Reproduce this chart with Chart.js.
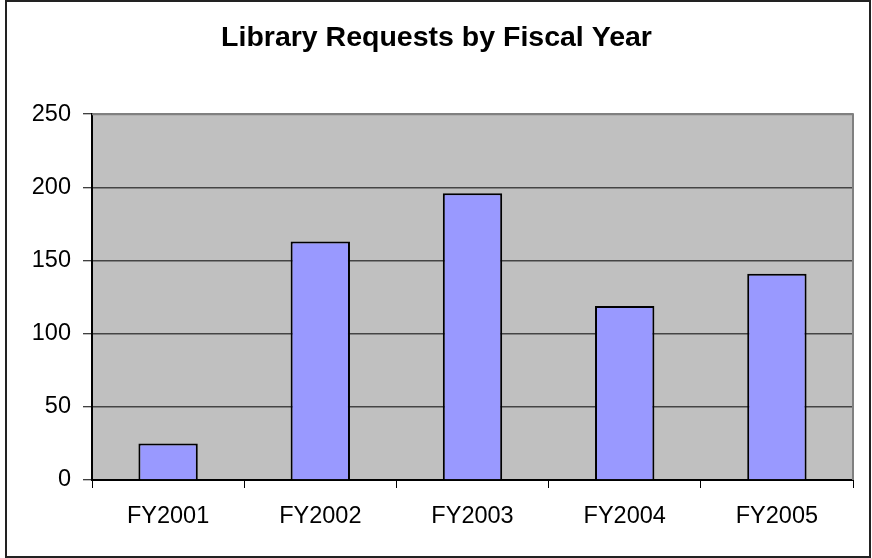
<!DOCTYPE html>
<html>
<head>
<meta charset="utf-8">
<script src="https://cdn.jsdelivr.net/npm/chart.js@4/dist/chart.umd.min.js"></script>
<style>
  body { margin: 0; background: #fff; }
  #wrap { width: 872px; height: 558px; }
</style>
</head>
<body>
<div id="wrap"><canvas id="requestsChart" width="872" height="558"></canvas></div>
<script>
const chartTitle = 'Library Requests by Fiscal Year';
const fiscalYears = ['FY2001', 'FY2002', 'FY2003', 'FY2004', 'FY2005'];
const requests = [25, 163, 196, 119, 141];
const yTicks = [0, 50, 100, 150, 200, 250];

// серый фон области графика и рамка вокруг всего рисунка
const framePlugin = {
    id: 'frame',
    beforeDraw(chart) {
        const c = chart.ctx;
        const a = chart.chartArea;
        c.save();
        c.fillStyle = '#fff';
        c.fillRect(0, 0, chart.width, chart.height);
        c.fillStyle = '#c0c0c0';
        c.fillRect(a.left, a.top, a.right - a.left, a.bottom - a.top);
        c.restore();
    },
    afterDraw(chart) {
        const c = chart.ctx;
        const a = chart.chartArea;
        c.save();
        c.strokeStyle = '#808080';
        c.lineWidth = 2;
        c.beginPath();
        c.moveTo(a.left, a.top);
        c.lineTo(a.right, a.top);
        c.lineTo(a.right, a.bottom);
        c.stroke();
        c.strokeStyle = '#222';
        c.lineWidth = 2;
        c.strokeRect(6, 1, 864, 556);
        c.restore();
    }
};

const ctx = document.getElementById('requestsChart').getContext('2d');
new Chart(ctx, {
    type: 'bar',
    data: {
        labels: fiscalYears,
        datasets: [{
            data: requests,
            backgroundColor: '#9999ff',
            borderColor: '#000',
            borderWidth: 2,
            barPercentage: 0.39,
            categoryPercentage: 1
        }]
    },
    options: {
        responsive: false,
        animation: false,
        layout: { padding: { left: 20, right: 19, top: 0, bottom: 0 } },
        font: { family: "'Liberation Sans', Arial, sans-serif" },
        plugins: {
            legend: { display: false },
            tooltip: { enabled: false },
            title: {
                display: true,
                text: chartTitle,
                color: '#000',
                font: { family: "'Liberation Sans', Arial, sans-serif", size: 28.5, weight: 'bold' },
                padding: { top: 21, bottom: 59 }
            }
        },
        scales: {
            x: {
                grid: {
                    offset: true,
                    drawOnChartArea: false,
                    drawTicks: true,
                    tickLength: 8,
                    tickColor: '#000',
                    tickWidth: 1
                },
                border: { color: '#000', width: 2 },
                ticks: {
                    color: '#000',
                    padding: 14,
                    font: { family: "'Liberation Sans', Arial, sans-serif", size: 23.5 }
                },
                afterFit(scale) { scale.height = 78; }
            },
            y: {
                min: 0,
                max: 250,
                afterBuildTicks(scale) {
                    scale.ticks = yTicks.map(v => ({ value: v }));
                },
                grid: {
                    color: ctx => ctx.tick && ctx.tick.value === 250 ? '#808080' : '#444',
                    lineWidth: 1.5,
                    tickLength: 9,
                    tickColor: '#000',
                    tickWidth: 1
                },
                border: { color: '#000', width: 2 },
                ticks: {
                    color: '#000',
                    padding: 12,
                    font: { family: "'Liberation Sans', Arial, sans-serif", size: 23.5 }
                },
                afterFit(scale) { scale.width = 72; }
            }
        }
    },
    plugins: [framePlugin]
});
</script>
</body>
</html>
